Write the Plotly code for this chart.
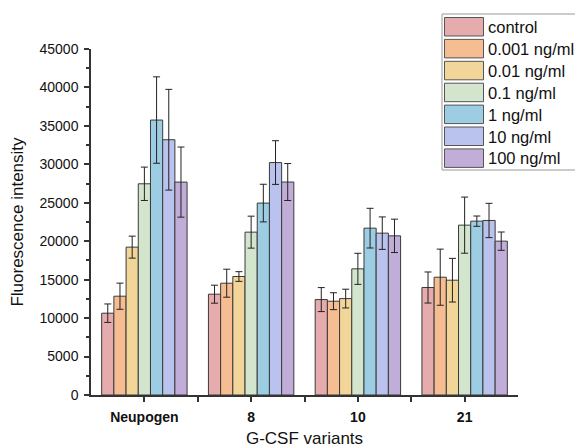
import plotly.graph_objects as go

# ---- data ----
variants = ['Neupogen', '8', '10', '21']
doses = ['control', '0.001 ng/ml', '0.01 ng/ml', '0.1 ng/ml', '1 ng/ml', '10 ng/ml', '100 ng/ml']

control = [10640, 13110, 12410, 13980]
d0001 = [12850, 14540, 12200, 15320]
d001 = [19230, 15410, 12540, 14930]
d01 = [27470, 21180, 16410, 22090]
d1 = [35760, 24960, 21700, 22610]
d10 = [33200, 30230, 21050, 22700]
d100 = [27690, 27700, 20700, 20010]

control_err = [1200, 1170, 1560, 2020]
d0001_err = [1700, 1820, 1100, 3650]
d001_err = [1430, 630, 1220, 2840]
d01_err = [2170, 2080, 2020, 3650]
d1_err = [5620, 2450, 2580, 670]
d10_err = [6550, 2840, 2110, 2230]
d100_err = [4560, 2400, 2170, 1190]

colors = ['#E6ACAD', '#F6BD93', '#F2D699', '#D3E5CC', '#9DCDE3', '#BAC3EE', '#C0ADD8']

series = [control, d0001, d001, d01, d1, d10, d100]
errors = [control_err, d0001_err, d001_err, d01_err, d1_err, d10_err, d100_err]

FONT = 'Arial, Liberation Sans, sans-serif'

fig = go.Figure()
xpos = list(range(len(variants)))
for name, vals, errs, col in zip(doses, series, errors, colors):
    fig.add_trace(go.Bar(
        x=xpos, y=vals, name=name,
        marker=dict(color=col, line=dict(color='#3a3a3a', width=1)),
        error_y=dict(type='data', array=errs, visible=True,
                     color='#222222', thickness=1, width=3.5),
        showlegend=False,
    ))

# the page body has an 8px margin, so the figure is drawn 8px in from the corner
OFF = 8
W, H = 583 - OFF, 448 - OFF
L, R, T, B = 91 - OFF, 65, 49 - OFF, 53
pw, ph = W - L - R, H - T - B

# page pixel -> paper coords
def px(x):
    return (x - OFF - L) / pw

def py(y):
    return (H - B - (y - OFF)) / ph

# custom legend box (large swatches like the original)
fig.add_shape(type='rect', xref='paper', yref='paper',
              x0=px(442), x1=px(590), y0=py(170), y1=py(14),
              line=dict(color='#999999', width=1), fillcolor='white', layer='above')
for i, (name, col) in enumerate(zip(doses, colors)):
    top = 17.5 + 21.9 * i
    fig.add_shape(type='rect', xref='paper', yref='paper',
                  x0=px(444.5), x1=px(483.5), y0=py(top + 18.5), y1=py(top),
                  line=dict(color='#555555', width=1), fillcolor=col, layer='above')
    fig.add_annotation(xref='paper', yref='paper', x=px(486), y=py(top + 9.5),
                       text=name, showarrow=False, xanchor='left', yanchor='middle',
                       font=dict(family=FONT, size=16.5, color='#111111'))

fig.update_layout(
    width=W, height=H,
    margin=dict(l=L, r=R, t=T, b=B),
    paper_bgcolor='white', plot_bgcolor='white',
    barmode='group', bargap=0.2, bargroupgap=0,
    font=dict(family=FONT, color='#111111'),
)

fig.update_xaxes(
    range=[-0.5, 3.5], tickvals=xpos, ticktext=['<b>%s</b>' % v for v in variants],
    tickfont=dict(size=14, color='#111111'), automargin=False,
    ticklabelstandoff=3,
    showline=True, linecolor='#333333', linewidth=1.5,
    ticks='outside', ticklen=5, tickwidth=1.5, tickcolor='#333333',
    minor=dict(tickvals=[0.5, 1.5, 2.5], ticks='outside', ticklen=5,
               tickwidth=1.5, tickcolor='#333333'),
    showgrid=False, zeroline=False,
    title=dict(text='G-CSF variants', font=dict(size=17), standoff=10),
)
fig.update_yaxes(
    range=[0, 45000], tick0=0, dtick=5000, tickformat='d',
    tickfont=dict(size=14, color='#111111'), automargin=False,
    ticklabelstandoff=3,
    showline=True, linecolor='#333333', linewidth=1.5,
    ticks='outside', ticklen=5, tickwidth=1.5, tickcolor='#333333',
    minor=dict(dtick=2500, ticks='outside', ticklen=3, tickwidth=1.5, tickcolor='#333333'),
    showgrid=False, zeroline=False,
    title=dict(text='Fluorescence intensity', font=dict(size=17), standoff=14),
)

fig.write_html('out.html')
